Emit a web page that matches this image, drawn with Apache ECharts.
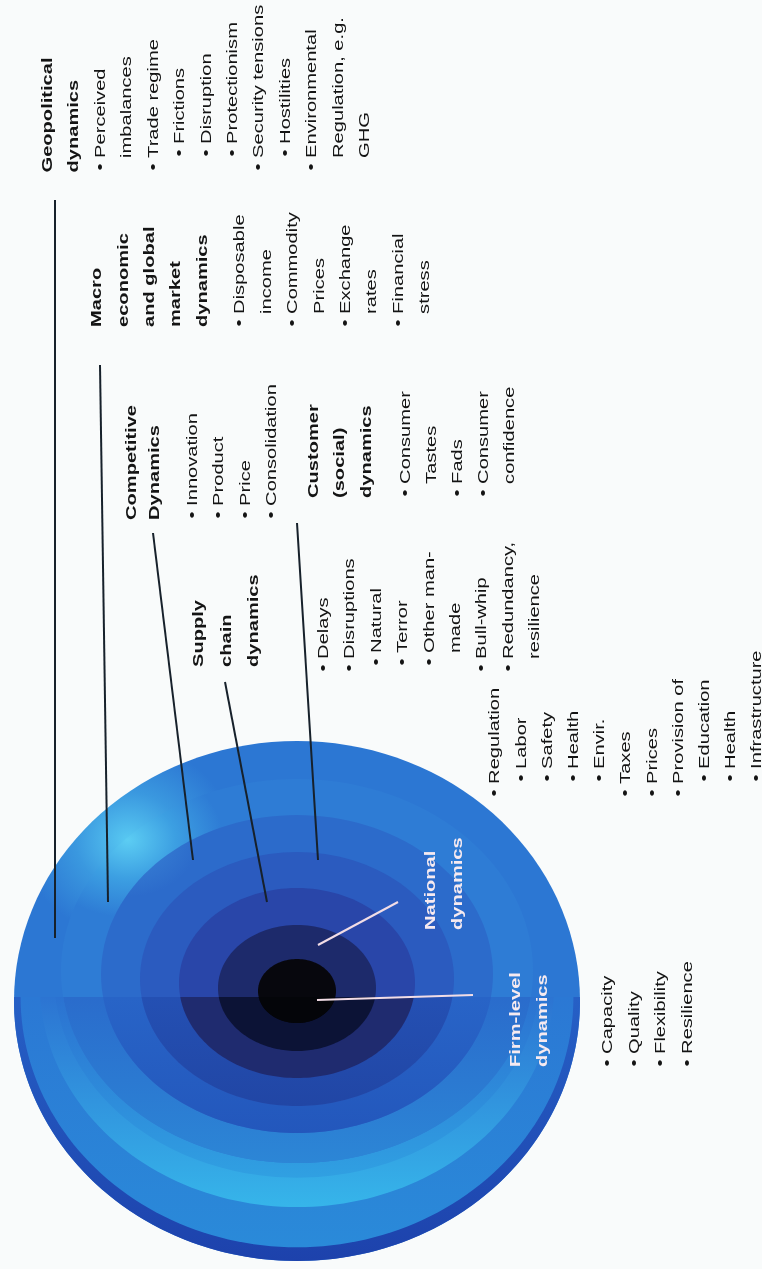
<!DOCTYPE html>
<html>
<head>
<meta charset="utf-8">
<script src="https://cdn.jsdelivr.net/npm/echarts@6/dist/echarts.min.js"></script>
<style>
html,body{margin:0;padding:0;background:#f9fbfb;}
#chart{width:762px;height:1269px;}
</style>
</head>
<body>
<div id="chart"></div>
<script>
// ================= DATA =================
// Levels of the disc, from the centre outwards
const levels = ['Firm-level dynamics', 'National dynamics', 'Supply chain dynamics',
  'Customer (social) dynamics', 'Competitive Dynamics',
  'Macro economic and global market dynamics', 'Geopolitical dynamics'];

// Text blocks: titles and bullet lines  (b = bullet, c = continuation, s = sub-bullet, sc = sub continuation)
const geoTitle = ['Geopolitical', 'dynamics'];
const geoLines = [['b', 'Perceived'], ['c', 'imbalances'], ['b', 'Trade regime'], ['s', 'Frictions'],
  ['s', 'Disruption'], ['s', 'Protectionism'], ['b', 'Security tensions'], ['s', 'Hostilities'],
  ['b', 'Environmental'], ['c', 'Regulation, e.g.'], ['c', 'GHG']];

const macroTitle = ['Macro', 'economic', 'and global', 'market', 'dynamics'];
const macroLines = [['b', 'Disposable'], ['c', 'income'], ['b', 'Commodity'], ['c', 'Prices'],
  ['b', 'Exchange'], ['c', 'rates'], ['b', 'Financial'], ['c', 'stress']];

const compTitle = ['Competitive', 'Dynamics'];
const compLines = [['b', 'Innovation'], ['b', 'Product'], ['b', 'Price'], ['b', 'Consolidation']];

const custTitle = ['Customer', '(social)', 'dynamics'];
const custLines = [['b', 'Consumer'], ['c', 'Tastes'], ['b', 'Fads'], ['b', 'Consumer'], ['c', 'confidence']];

const supplyTitle = ['Supply', 'chain', 'dynamics'];
const supplyLines = [['b', 'Delays'], ['b', 'Disruptions'], ['s', 'Natural'], ['s', 'Terror'],
  ['s', 'Other man-'], ['sc', 'made'], ['b', 'Bull-whip'], ['b', 'Redundancy,'], ['c', 'resilience']];

const nationalTitle = ['National', 'dynamics'];
const nationalLines = [['b', 'Regulation'], ['s', 'Labor'], ['s', 'Safety'], ['s', 'Health'], ['s', 'Envir.'],
  ['b', 'Taxes'], ['b', 'Prices'], ['b', 'Provision of'], ['s', 'Education'], ['s', 'Health'], ['s', 'Infrastructure']];

const firmTitle = ['Firm-level', 'dynamics'];
const firmLines = [['b', 'Capacity'], ['b', 'Quality'], ['b', 'Flexibility'], ['b', 'Resilience']];

// ================= LAYOUT / STYLE =================
const LAYOUT = {
  disc: { cx: 297, splitY: 997 },
  ring: {                       // index = level (centre outwards)
    rx: [39, 79, 118, 157, 196, 236, 283],
    ry: [32, 63, 95, 127, 159, 192, 260],
    cy: [991, 988, 983, 979, 974, 971, 1001]
  },
  glow: { x: 128, y: 840 },
  leadersDark: [
    [[55, 200], [55, 938]],     // Geopolitical
    [[100, 365], [108, 902]],   // Macro
    [[153, 533], [193, 860]],   // Competitive
    [[297, 523], [318, 860]],   // Customer
    [[225, 682], [267, 902]]    // Supply chain
  ],
  leadersLight: [
    [[398, 902], [318, 945]],   // National
    [[317, 1000], [473, 995]]   // Firm-level
  ],
  blocks: {
    geo:      { titleY: 172.5, titleBase: 52.7, titlePitch: 26.2, listY: 170.5, listBase: 105.5, pitch: 26.4, sub: 14 },
    macro:    { titleY: 327, titleBase: 102, titlePitch: 26.3, listY: 326.5, listBase: 245, pitch: 26.4, sub: 14 },
    comp:     { titleY: 520, titleBase: 136.5, titlePitch: 23.5, listY: 518.5, listBase: 197.5, pitch: 26.5, sub: 14 },
    cust:     { titleY: 498, titleBase: 318.7, titlePitch: 26.2, listY: 496.5, listBase: 410.5, pitch: 26, sub: 14 },
    supply:   { titleY: 667, titleBase: 204, titlePitch: 27.5, listY: 671.5, listBase: 328.5, pitch: 26.4, sub: 6 },
    national: { titleY: 930, titleBase: 436, titlePitch: 27, listY: 796.5, listBase: 500, pitch: 26.2, sub: 15 },
    firm:     { titleY: 1067, titleBase: 521, titlePitch: 27, listY: 1066.5, listBase: 613, pitch: 26.5, sub: 14 }
  },
  font: 15, stretch: 1.34, bulletW: 12.6, baseShift: 4.7
};

const G = echarts.graphic;
const lin = (a, b) => new G.LinearGradient(0, 0, 0, 1, [{ offset: 0, color: a }, { offset: 1, color: b }]);
// upper-half fills; entries with a glow spec get a radial highlight centred on LAYOUT.glow
const UPPER = ['#07070d', '#1d2a6b', '#2946a9', '#2b5bbf',
  { base: '#2c6bcb', glow: ['#3f8fda', '#3479d1'], r: 70 },
  { base: '#2e7cd5', glow: ['#5ccdf3', '#3c9fe2'], r: 95 },
  { base: '#2c77d3', glow: ['#58c9f2', '#3a98df'], r: 105 }];
const LOWER = ['#040509', '#0c1336', '#1f2b6f', lin('#2450b3', '#2146a5'), lin('#2864c7', '#2357bc'),
  lin('#2a6ccc', '#2c86d6'), null];
// extra shading layers of the outer band (lower half): [t between ring 6 and 7, fill]
const OUTER_LAYERS = [
  [1.0, lin('#2660c6', '#1d42ac')],
  [0.86, lin('#2b78d4', '#2a8ad9')],
  [0.45, lin('#2c74d2', '#36b5ea')],
  [0.15, lin('#2b72d1', '#30a0e2')]
];
const TEXT_DARK = '#141414';
const TEXT_LIGHT = '#f6eaf0';

// ================= RENDERING =================
function arcPts(r, a0, a1, n) {
  const pts = [];
  for (let i = 0; i <= n; i++) {
    const a = a0 + (a1 - a0) * i / n;
    pts.push([r * Math.cos(a), r * Math.sin(a)]);
  }
  return pts;
}

function makeFill(spec, api, c, sy) {
  if (!spec || typeof spec !== 'object' || !spec.glow) return spec;
  const gp = api.coord([LAYOUT.glow.x, LAYOUT.glow.y]);
  const lx = gp[0] - c[0];
  const ly = (gp[1] - c[1]) / sy;
  const r = api.size([spec.r, 0])[0];
  return new G.RadialGradient(lx, ly, r, [
    { offset: 0, color: spec.glow[0] },
    { offset: 0.5, color: spec.glow[1] },
    { offset: 1, color: spec.base }], true);
}

function ellipseParts(api, rx, ry, cy, upperSpec, lowerFill, z) {
  const c = api.coord([LAYOUT.disc.cx, cy]);
  const s = api.size([rx, ry]);
  const split = api.coord([0, LAYOUT.disc.splitY])[1];
  const R = s[0], sy = s[1] / s[0];
  const out = [];
  if (upperSpec) {
    out.push({ type: 'polygon', x: c[0], y: c[1], scaleY: sy, z2: z,
      shape: { points: arcPts(R, 0, 2 * Math.PI, 140) }, style: { fill: makeFill(upperSpec, api, c, sy) } });
  }
  if (lowerFill) {
    let q = (split - c[1]) / s[1];
    if (q < 1) {
      q = Math.max(-1, q);
      const a0 = Math.asin(q);
      out.push({ type: 'polygon', x: c[0], y: c[1], scaleY: sy, z2: z + 1,
        shape: { points: arcPts(R, a0, Math.PI - a0, 100) }, style: { fill: lowerFill } });
    }
  }
  return out;
}

function renderRing(params, api) {
  const k = api.value(0);
  const RG = LAYOUT.ring;
  const zBase = (7 - k) * 10;
  let children = [];
  if (k === 6) {
    children = children.concat(ellipseParts(api, RG.rx[6], RG.ry[6], RG.cy[6], UPPER[6], null, zBase));
    OUTER_LAYERS.forEach((L, i) => {
      const t = L[0];
      const rx = RG.rx[5] + (RG.rx[6] - RG.rx[5]) * t;
      const ry = RG.ry[5] + (RG.ry[6] - RG.ry[5]) * t;
      const cy = RG.cy[5] + (RG.cy[6] - RG.cy[5]) * t;
      children = children.concat(ellipseParts(api, rx, ry, cy, null, L[1], zBase + 1 + i * 2));
    });
  } else {
    children = children.concat(ellipseParts(api, RG.rx[k], RG.ry[k], RG.cy[k], UPPER[k], LOWER[k], zBase));
  }
  return { type: 'group', children };
}

// Text blocks
const textEls = [];
function textEl(str, baseX, startY, bold, color) {
  return {
    type: 'text', x: baseX - LAYOUT.baseShift, y: startY, rotation: Math.PI / 2,
    scaleX: LAYOUT.stretch, z: 100, silent: true,
    style: { text: str, fill: color, fontSize: LAYOUT.font, fontWeight: bold ? 'bold' : 'normal',
      fontFamily: '"Liberation Sans", Arial, Helvetica, sans-serif', align: 'left', verticalAlign: 'middle' }
  };
}
function addTitle(title, L, color) {
  title.forEach((t, i) => textEls.push(textEl(t, L.titleBase + i * L.titlePitch, L.titleY, true, color)));
}
function addList(lines, L, color) {
  lines.forEach((ln, i) => {
    const lvl = ln[0], t = ln[1];
    let off = 0, str = t;
    if (lvl === 'b') str = '\u2022 ' + t;
    else if (lvl === 'c') off = LAYOUT.bulletW;
    else if (lvl === 's') { off = L.sub; str = '\u2022 ' + t; }
    else if (lvl === 'sc') off = L.sub + LAYOUT.bulletW;
    textEls.push(textEl(str, L.listBase + i * L.pitch, L.listY - off, false, color));
  });
}
const B = LAYOUT.blocks;
addTitle(geoTitle, B.geo, TEXT_DARK); addList(geoLines, B.geo, TEXT_DARK);
addTitle(macroTitle, B.macro, TEXT_DARK); addList(macroLines, B.macro, TEXT_DARK);
addTitle(compTitle, B.comp, TEXT_DARK); addList(compLines, B.comp, TEXT_DARK);
addTitle(custTitle, B.cust, TEXT_DARK); addList(custLines, B.cust, TEXT_DARK);
addTitle(supplyTitle, B.supply, TEXT_DARK); addList(supplyLines, B.supply, TEXT_DARK);
addTitle(nationalTitle, B.national, TEXT_LIGHT); addList(nationalLines, B.national, TEXT_DARK);
addTitle(firmTitle, B.firm, TEXT_LIGHT); addList(firmLines, B.firm, TEXT_DARK);

const ringData = levels.map((name, k) => ({ name: name, value: [k, 0] })).reverse();

const chart = echarts.init(document.getElementById('chart'), null, { renderer: 'canvas' });
chart.setOption({
  backgroundColor: '#f9fbfb',
  animation: false,
  grid: { left: 0, right: 0, top: 0, bottom: 0 },
  xAxis: { type: 'value', min: 0, max: 762, show: false },
  yAxis: { type: 'value', min: 0, max: 1269, inverse: true, show: false },
  series: [
    { type: 'custom', coordinateSystem: 'cartesian2d', clip: false, silent: true, z: 1,
      encode: { x: 0, y: 1 }, renderItem: renderRing, data: ringData },
    { type: 'lines', coordinateSystem: 'cartesian2d', silent: true, z: 3,
      lineStyle: { color: '#17212b', width: 2, opacity: 1, curveness: 0 },
      data: LAYOUT.leadersDark.map(c => ({ coords: c })) },
    { type: 'lines', coordinateSystem: 'cartesian2d', silent: true, z: 3,
      lineStyle: { color: '#f2dde6', width: 2, opacity: 1, curveness: 0 },
      data: LAYOUT.leadersLight.map(c => ({ coords: c })) }
  ],
  graphic: { elements: textEls }
});
</script>
</body>
</html>
